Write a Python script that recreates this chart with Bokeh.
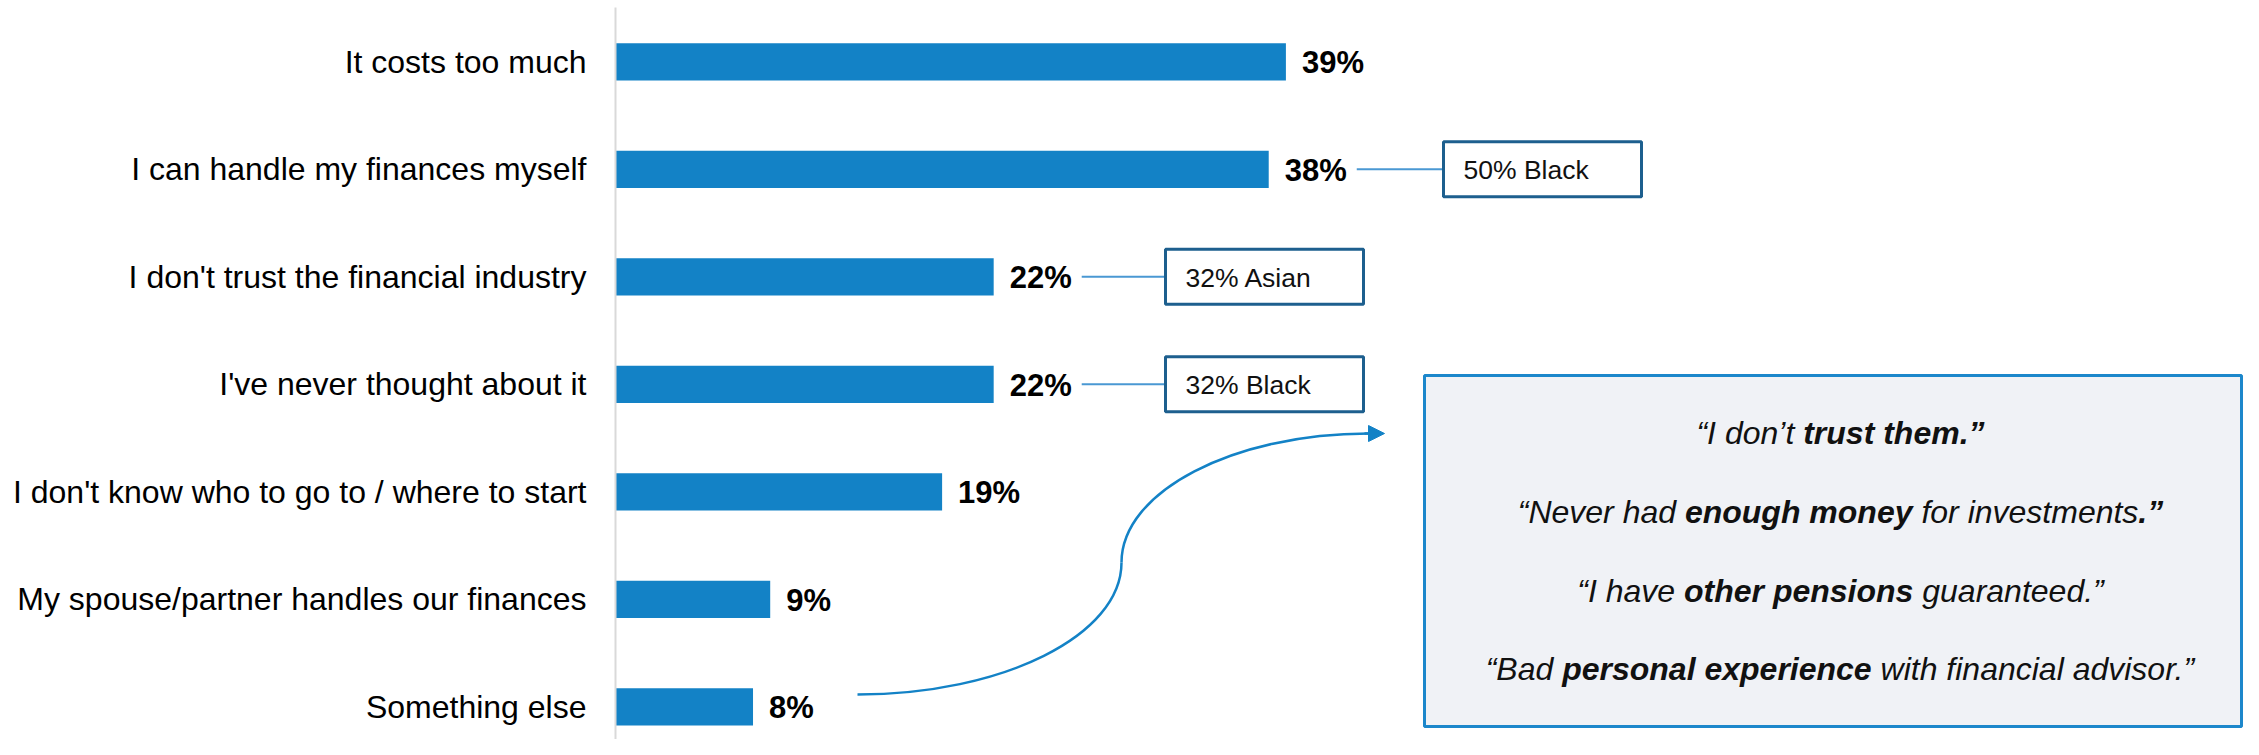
import numpy as np
from bokeh.plotting import figure
from bokeh.models import Range1d, FixedTicker, Arrow, NormalHead
from bokeh.core.properties import value
from bokeh.embed import file_html
from bokeh.resources import INLINE

# ---------------- data ----------------
categories = [
    "It costs too much",
    "I can handle my finances myself",
    "I don't trust the financial industry",
    "I've never thought about it",
    "I don't know who to go to / where to start",
    "My spouse/partner handles our finances",
    "Something else",
]
values = [39, 38, 22, 22, 19, 9, 8]
value_labels = [f"{v}%" for v in values]

callout_rows = [1, 2, 3]
callout_texts = ["50% Black", "32% Asian", "32% Black"]

quotes = [
    [("\u201cI don\u2019t ", False), ("trust them.\u201d", True)],
    [("\u201cNever had ", False), ("enough money", True), (" for investments", False), (".\u201d", True)],
    [("\u201cI have ", False), ("other pensions", True), (" guaranteed.\u201d", False)],
    [("\u201cBad ", False), ("personal experience", True), (" with financial advisor.\u201d", False)],
]

# ---------------- layout helpers ----------------
FONT = "Liberation Sans"
W, H = 2243, 739
TOP = 7              # frame starts a few pixels below the top
AXIS_PX = 615.0      # x pixel of the value axis (0 %)
PX_PER_PCT = 17.19   # pixels per percentage point
ROW0 = 61.3          # y pixel of first bar centre
PITCH = 107.5        # row pitch in pixels

def X(px):
    return (px - AXIS_PX) / PX_PER_PCT

def Y(py):
    return (py - ROW0) / PITCH

REG = {' ': 278, '%': 889, "'": 191, '.': 278, '/': 278, '\u201c': 333, '\u201d': 333, '\u2019': 222,
       'A': 667, 'B': 667, 'C': 722, 'D': 722, 'E': 667, 'F': 611, 'G': 778, 'H': 722, 'I': 278,
       'J': 500, 'K': 667, 'L': 556, 'M': 833, 'N': 722, 'O': 778, 'P': 667, 'R': 722, 'S': 667,
       'T': 611, 'U': 722, 'V': 667, 'W': 944, 'Y': 667,
       'a': 556, 'b': 556, 'c': 500, 'd': 556, 'e': 556, 'f': 278, 'g': 556, 'h': 556, 'i': 222,
       'j': 222, 'k': 500, 'l': 222, 'm': 833, 'n': 556, 'o': 556, 'p': 556, 'q': 556, 'r': 333,
       's': 500, 't': 278, 'u': 556, 'v': 500, 'w': 722, 'x': 500, 'y': 500, 'z': 500}
BOLD = {' ': 278, '%': 889, "'": 238, '.': 278, '/': 278, '\u201c': 500, '\u201d': 500, '\u2019': 278,
        'A': 722, 'B': 722, 'C': 722, 'D': 722, 'E': 667, 'F': 611, 'G': 778, 'H': 722, 'I': 278,
        'a': 556, 'b': 611, 'c': 556, 'd': 611, 'e': 556, 'f': 333, 'g': 611, 'h': 611, 'i': 278,
        'j': 278, 'k': 556, 'l': 278, 'm': 889, 'n': 611, 'o': 611, 'p': 611, 'q': 611, 'r': 389,
        's': 556, 't': 333, 'u': 611, 'v': 556, 'w': 778, 'x': 556, 'y': 556, 'z': 500}

def text_w(s, bold, size):
    tbl = BOLD if bold else REG
    return sum(tbl.get(ch, 556) for ch in s) / 1000.0 * size

idx = list(range(len(categories)))

p = figure(width=W, height=H,
           x_range=Range1d(0, X(W)),
           y_range=Range1d(Y(H), Y(TOP)),
           output_backend="svg", toolbar_location=None,
           x_axis_location=None,
           min_border_left=int(AXIS_PX), min_border_right=0,
           min_border_top=TOP, min_border_bottom=0)
p.outline_line_color = None
p.grid.visible = False

ax = p.yaxis[0]
ax.ticker = FixedTicker(ticks=idx)
ax.major_label_overrides = {i: c for i, c in zip(idx, categories)}
ax.axis_line_color = "#D9D9D9"
ax.axis_line_width = 2
ax.major_tick_line_color = None
ax.minor_tick_line_color = None
ax.major_label_text_font = FONT
ax.major_label_text_font_size = "32px"
ax.major_label_text_color = "#000000"
ax.major_label_standoff = 23

# bars
BAR_COLOR = "#1382C6"
p.hbar(y=idx, left=0, right=values, height=37.3 / PITCH,
       fill_color=BAR_COLOR, line_color=None)

# value labels
VAL_SIZE = 31
p.text(x=values, y=idx, text=value_labels, x_offset=16, y_offset=1,
       text_baseline="middle", text_align="left",
       text_font=value(FONT), text_font_style="bold",
       text_font_size=f"{VAL_SIZE}px", text_color="#000000")

# callouts
box_left_px = {1: 1443, 2: 1165, 3: 1165}
BOX_W, BOX_H = 198, 55
for r, t in zip(callout_rows, callout_texts):
    start_px = AXIS_PX + values[r] * PX_PER_PCT + 16 + text_w(value_labels[r], True, VAL_SIZE) + 10
    left = box_left_px[r]
    p.segment(x0=[X(start_px)], y0=[r], x1=[X(left)], y1=[r],
              line_color="#4A98D3", line_width=2)
    p.rect(x=[X(left + BOX_W / 2)], y=[r], width=BOX_W, height=BOX_H,
           width_units="screen", height_units="screen",
           fill_color="white", line_color="#1D5F8E", line_width=3)
    p.text(x=[X(left)], y=[r], text=[t], x_offset=20, y_offset=1,
           text_baseline="middle", text_align="left",
           text_font=value(FONT), text_font_size="26.5px", text_color="#111111")

# quote panel
p.quad(left=[X(1424)], right=[X(W - 2)], top=[Y(375)], bottom=[Y(726)],
       fill_color="#F0F2F6", line_color="#1C87CB", line_width=3)

Q_SIZE = 32
centre_px = 1840
line_y_px = [431, 510, 589, 667]
for segs, ly in zip(quotes, line_y_px):
    total = sum(text_w(s, b, Q_SIZE) for s, b in segs)
    off = -total / 2
    for s, b in segs:
        stripped = s.lstrip(" ")
        lead = text_w(s[:len(s) - len(stripped)], b, Q_SIZE)
        p.text(x=[X(centre_px)], y=[Y(ly)], text=[stripped], x_offset=off + lead, y_offset=1,
               text_baseline="middle", text_align="left",
               text_font=value(FONT),
               text_font_style="bold italic" if b else "italic",
               text_font_size=f"{Q_SIZE}px", text_color="#111111")
        off += text_w(s, b, Q_SIZE)

# curved arrow (S-curve from "Something else" to quotes)
CURVE = "#1382C6"
p.bezier(x0=[X(857)], y0=[Y(694)], x1=[X(1121)], y1=[Y(562)],
         cx0=[X(1002)], cy0=[Y(694)], cx1=[X(1121)], cy1=[Y(635)],
         line_color=CURVE, line_width=2.5)
p.bezier(x0=[X(1121)], y0=[Y(562)], x1=[X(1368)], y1=[Y(433)],
         cx0=[X(1121)], cy0=[Y(491)], cx1=[X(1233)], cy1=[Y(433)],
         line_color=CURVE, line_width=2.5)
p.add_layout(Arrow(end=NormalHead(size=16, fill_color=CURVE, line_color=CURVE),
                   x_start=X(1364), y_start=Y(433), x_end=X(1384), y_end=Y(433),
                   line_color=CURVE, line_width=2.5))

open("out.html", "w").write(file_html(p, INLINE))
